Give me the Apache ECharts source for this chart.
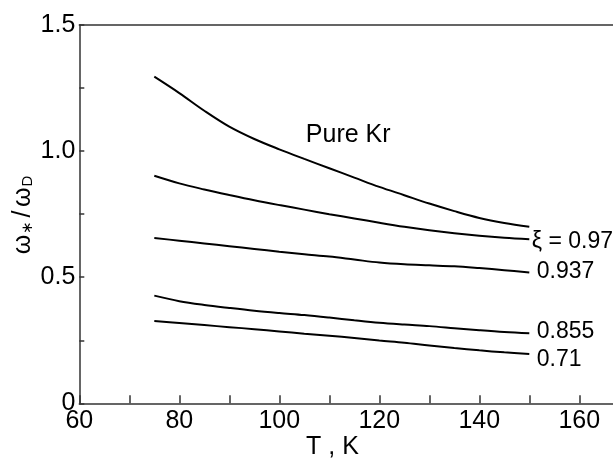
<!DOCTYPE html>
<html><head><meta charset="utf-8">
<script src="https://cdn.jsdelivr.net/npm/echarts@6/dist/echarts.min.js"></script>
<style>html,body{margin:0;padding:0;background:#fff}#c{width:613px;height:461px}</style>
</head><body><div id="c"></div>
<script>
const temps = [75,80,85,90,95,100,105,110,115,120,125,130,135,140,145,150];
const pureKr = [1.295,1.23,1.16,1.097,1.048,1.007,0.969,0.932,0.895,0.858,0.825,0.792,0.762,0.735,0.715,0.70];
const xi097  = [0.902,0.872,0.848,0.826,0.805,0.786,0.768,0.750,0.733,0.716,0.700,0.686,0.674,0.664,0.656,0.650];
const xi0937 = [0.655,0.645,0.634,0.623,0.612,0.601,0.591,0.582,0.570,0.558,0.551,0.547,0.543,0.536,0.528,0.519];
const xi0855 = [0.427,0.405,0.390,0.378,0.367,0.358,0.350,0.340,0.329,0.319,0.312,0.306,0.298,0.290,0.283,0.278];
const xi071  = [0.326,0.318,0.310,0.302,0.294,0.285,0.276,0.268,0.259,0.249,0.240,0.229,0.219,0.210,0.202,0.195];
const seriesNames = ['Pure Kr','ξ = 0.97','0.937','0.855','0.71'];
const seriesValues = [pureKr, xi097, xi0937, xi0855, xi071];
const xTicks = [60,80,100,120,140,160];
const yTicks = ['0','0.5','1.0','1.5'];

const FONT = '"Liberation Sans", Arial, Helvetica, sans-serif';
const labelPos = [
  {x:105.3, y:1.064},
  {x:150.5, y:0.640},
  {x:151.5, y:0.522},
  {x:151.5, y:0.284},
  {x:151.5, y:0.175}
];

const series = seriesValues.map((vals, i) => ({
  type: 'line',
  name: seriesNames[i],
  data: temps.map((t, j) => [t, vals[j]]),
  smooth: 0.35,
  showSymbol: false,
  symbol: 'none',
  lineStyle: {color: '#000', width: 2},
  silent: true,
  markPoint: {
    symbol: 'circle', symbolSize: 0, silent: true,
    data: [{coord: [labelPos[i].x, labelPos[i].y]}],
    label: {show: true, position: 'right', distance: 0, formatter: seriesNames[i],
            color: '#000', fontSize: i === 0 ? 25 : 23, fontFamily: FONT}
  }
}));

const chart = echarts.init(document.getElementById('c'), null, {renderer: 'canvas'});
chart.setOption({
  animation: false,
  backgroundColor: '#fff',
  grid: {left: 79.3, right: 0, top: 25, bottom: 57.7, containLabel: false},
  xAxis: [{
    type: 'value', min: 60, max: 166.74, interval: 10,
    axisLine: {show: true, lineStyle: {color: '#333', width: 1.5}},
    axisTick: {show: true, inside: true, length: 8, lineStyle: {color: '#333', width: 1.5}},
    splitLine: {show: false},
    axisLabel: {color: '#000', fontSize: 25, fontFamily: FONT, margin: 5, showMaxLabel: false,
      formatter: v => xTicks.includes(v) ? String(v) : ''}
  }, {
    type: 'value', position: 'top', min: 60, max: 166.74,
    axisLine: {show: true, lineStyle: {color: '#333', width: 1.5}},
    axisTick: {show: false}, axisLabel: {show: false}, splitLine: {show: false}
  }],
  yAxis: {
    type: 'value', min: 0, max: 1.5, interval: 0.25,
    axisLine: {show: true, lineStyle: {color: '#333', width: 1.5}},
    axisTick: {show: true, inside: true, length: 5, lineStyle: {color: '#333', width: 1.5}},
    splitLine: {show: false},
    axisLabel: {color: '#000', fontSize: 25, fontFamily: FONT, margin: 4,
      formatter: v => { const s = v === 0 ? '0' : v.toFixed(1); return yTicks.includes(s) && Math.abs(v*2 - Math.round(v*2)) < 1e-9 ? s : ''; }}
  },
  graphic: [
    {type: 'text', x: 332.5, y: 435,
     style: {text: 'T , K', font: '25px ' + FONT, fill: '#000', align: 'center', verticalAlign: 'top'}},
    {type: 'text', x: 23, y: 215, rotation: Math.PI/2, originX: 0, originY: 0,
     style: {
       text: '{w|ω}{s|∗} {w|/} {w|ω}{d|D}',
       align: 'center', verticalAlign: 'middle',
       rich: {
         w: {fontSize: 25, fontFamily: FONT, fill: '#000'},
         s: {fontSize: 15, fontFamily: FONT, fill: '#000', verticalAlign: 'bottom', padding: [0,0,0,1]},
         d: {fontSize: 15, fontFamily: FONT, fill: '#000', verticalAlign: 'bottom', padding: [8,0,0,1]}
       }
     }}
  ],
  series: series
});
</script></body></html>
